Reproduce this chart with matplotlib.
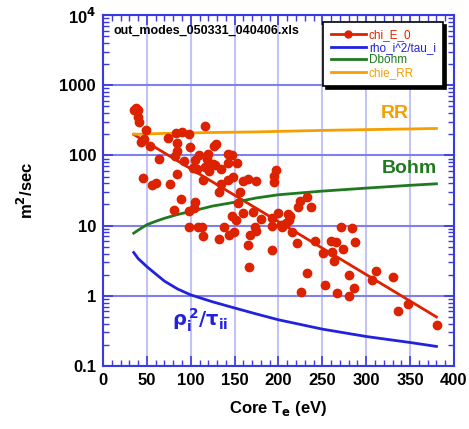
import numpy as np
import matplotlib.pyplot as plt
from matplotlib.ticker import FixedLocator, MultipleLocator, LogLocator, NullFormatter

plt.rcParams['font.family'] = ['Liberation Sans', 'DejaVu Sans']

# chi_E_0 measurements: core Te (eV), chi (m^2/sec)
chiTe = [37.6, 35.7, 39.5, 39.5, 41.6, 48.8, 47.1, 43.3, 53.6, 64.2,
         45.9, 55.5, 60.4, 76.7, 74.4, 83.0, 89.5, 97.7, 116.8, 84.0,
         98.8, 84.7, 82.6, 92.5, 84.7, 88.7, 104.3, 109.4, 104.8, 119.1,
         118.7, 126.8, 128.5, 103.1, 106.6, 116.2, 120.8, 125.1, 127.6, 113.6,
         135.0, 142.8, 147.0, 142.4, 152.4, 134.5, 132.2, 142.4, 147.6, 159.0,
         164.7, 156.7, 154.2, 174.4, 196.8, 195.2, 194.6, 159.0, 170.4, 180.1,
         173.2, 174.0, 168.1, 164.7, 166.4, 192.3, 192.9, 199.4, 192.3, 202.8,
         204.3, 210.3, 213.1, 212.0, 208.5, 215.4, 221.4, 222.6, 224.7, 232.1,
         237.0, 241.6, 232.1, 225.9, 250.7, 259.3, 265.8, 261.5, 263.2, 270.9,
         273.8, 253.3, 267.0, 280.7, 280.3, 283.5, 287.7, 285.5, 310.9, 306.0,
         330.7, 335.8, 347.9, 380.1, 80.6, 98.2, 103.9, 98.3, 107.9, 112.5,
         114.3, 137.9, 132.2, 143.9, 149.3, 147.4, 151.3]
chiE = [481, 439, 446, 349, 296, 232, 170, 155, 134, 89.5,
        47.5, 37.5, 40.3, 39, 176, 208, 213, 203, 264, 150,
        133, 115, 98.7, 83.8, 55.2, 23.9, 21.8, 102, 86.5, 105,
        90.3, 134, 145, 66.6, 63.4, 67.6, 60.3, 74.7, 73.5, 43.9,
        64, 105, 100, 77.7, 76.7, 39.4, 29.8, 44.2, 48.8, 43.5,
        46.4, 29.8, 20.8, 42.8, 62.4, 51.2, 41.7, 15.1, 15.6, 12.4,
        9.7, 8.4, 7.3, 5.3, 2.56, 4.42, 9.9, 15.1, 12.8, 10.1,
        9.4, 14.8, 13.8, 12.0, 10.9, 8.0, 5.6, 18.5, 22.6, 25.7,
        18.7, 6.1, 2.1, 1.14, 4.06, 6.1, 5.8, 4.2, 3.08, 9.5,
        4.63, 1.42, 1.11, 0.99, 1.99, 9.2, 5.9, 1.28, 2.23, 1.68,
        1.88, 0.61, 0.76, 0.38, 16.8, 16.0, 17.8, 9.6, 9.5, 9.7,
        7.2, 9.7, 6.4, 7.3, 8.1, 13.9, 12.1]

# exponential fit to chi_E_0
fitTe = [35, 380]
fitChi = [199, 0.50]

# model curves
curveTe = [35, 40, 50, 60, 70, 85, 100, 125, 150, 175, 200, 250, 300, 350, 380]
rhoTau = [4.14, 3.4, 2.6, 2.05, 1.62, 1.25, 1.03, 0.82, 0.67, 0.55, 0.455, 0.335, 0.263, 0.216, 0.19]
dBohm = [7.8, 8.6, 10.3, 11.5, 12.7, 14.4, 15.9, 19.0, 21.5, 24.8, 27.5, 31.0, 34.2, 37.5, 39.4]
chieRR = [201, 200, 203, 204, 206, 207, 209, 212, 214, 216, 220, 227, 233, 238, 242]

red = '#dd2200'
blue = '#2222dd'
green = '#1f7a1f'
orange = '#f5a000'
axblue = '#3a3ae0'

fig = plt.figure(figsize=(4.69, 4.29), dpi=100)
ax = fig.add_axes([0.2196, 0.1469, 0.7484, 0.8181])

ax.plot(fitTe, fitChi, color=red, lw=2, zorder=3)
ax.plot(curveTe, rhoTau, color=blue, lw=2, zorder=3)
ax.plot(curveTe, dBohm, color=green, lw=2, zorder=3)
ax.plot(curveTe, chieRR, color=orange, lw=2, zorder=3)
ax.plot(chiTe, chiE, 'o', color=red, ms=6, zorder=4)

# legend proxies
h1, = ax.plot([], [], '-o', color=red, lw=2, ms=5, label='chi_E_0')
h2, = ax.plot([], [], color=blue, lw=2, label='rho_i^2/tau_i')
h3, = ax.plot([], [], color=green, lw=2, label='Dbohm')
h4, = ax.plot([], [], color=orange, lw=2, label='chie_RR')
leg = ax.legend(handles=[h1, h2, h3, h4], loc='upper right', bbox_to_anchor=(0.9687, 0.980),
                prop={'family': 'Liberation Sans', 'size': 8.5}, labelcolor='linecolor',
                handlelength=3.0, borderpad=0.6, labelspacing=0.05, handletextpad=0.25,
                borderaxespad=0, fancybox=False, framealpha=1,
                shadow={'color': 'black', 'alpha': 1})
leg.get_frame().set_edgecolor('black')
leg.get_frame().set_linewidth(1.2)

ax.set_yscale('log')
ax.set_xlim(0, 400)
ax.set_ylim(0.1, 1e4)

ax.xaxis.set_major_locator(MultipleLocator(50))
ax.xaxis.set_minor_locator(MultipleLocator(10))
ax.yaxis.set_major_locator(FixedLocator([0.1, 1, 10, 100, 1000, 10000]))
ax.yaxis.set_minor_locator(LogLocator(base=10, subs=np.arange(2, 10)))
ax.yaxis.set_minor_formatter(NullFormatter())
ax.set_yticklabels(['0.1', '1', '10', '100', '1000', r'10$^\mathbf{4}$'])

ax.grid(True, which='major', axis='x', color='#c4c4f4', lw=1.5, zorder=0)
ax.grid(True, which='major', axis='y', color='#7f7fee', lw=1.5, zorder=0)

for s in ax.spines.values():
    s.set_color(axblue)
    s.set_linewidth(1.5)
ax.tick_params(which='both', direction='in', top=True, right=True, color=axblue,
               labelsize=12, pad=5)
ax.tick_params(which='major', length=7, width=1.2)
ax.tick_params(which='minor', length=4, width=1)
for lab in ax.get_xticklabels() + ax.get_yticklabels():
    lab.set_fontweight('bold')

ax.set_xlabel(r'Core T$_\mathbf{e}$ (eV)', fontsize=12, fontweight='bold', labelpad=8)
ax.set_ylabel(r'm$^\mathbf{2}$/sec', fontsize=12, fontweight='bold', labelpad=17)

ax.text(0.03, 0.955, 'out_modes_050331_040406.xls', transform=ax.transAxes,
        fontsize=9, fontweight='bold', va='center', ha='left')
ax.text(333, 400, 'RR', color=orange, fontsize=14, fontweight='bold', ha='center', va='center')
ax.text(349, 66, 'Bohm', color=green, fontsize=14, fontweight='bold', ha='center', va='center')
ax.text(111, 0.45, r'$\mathbf{\rho_i^{\,2}/\tau_{ii}}$', color=blue, fontsize=14,
        ha='center', va='center')

fig.savefig('out.png', dpi=100)
